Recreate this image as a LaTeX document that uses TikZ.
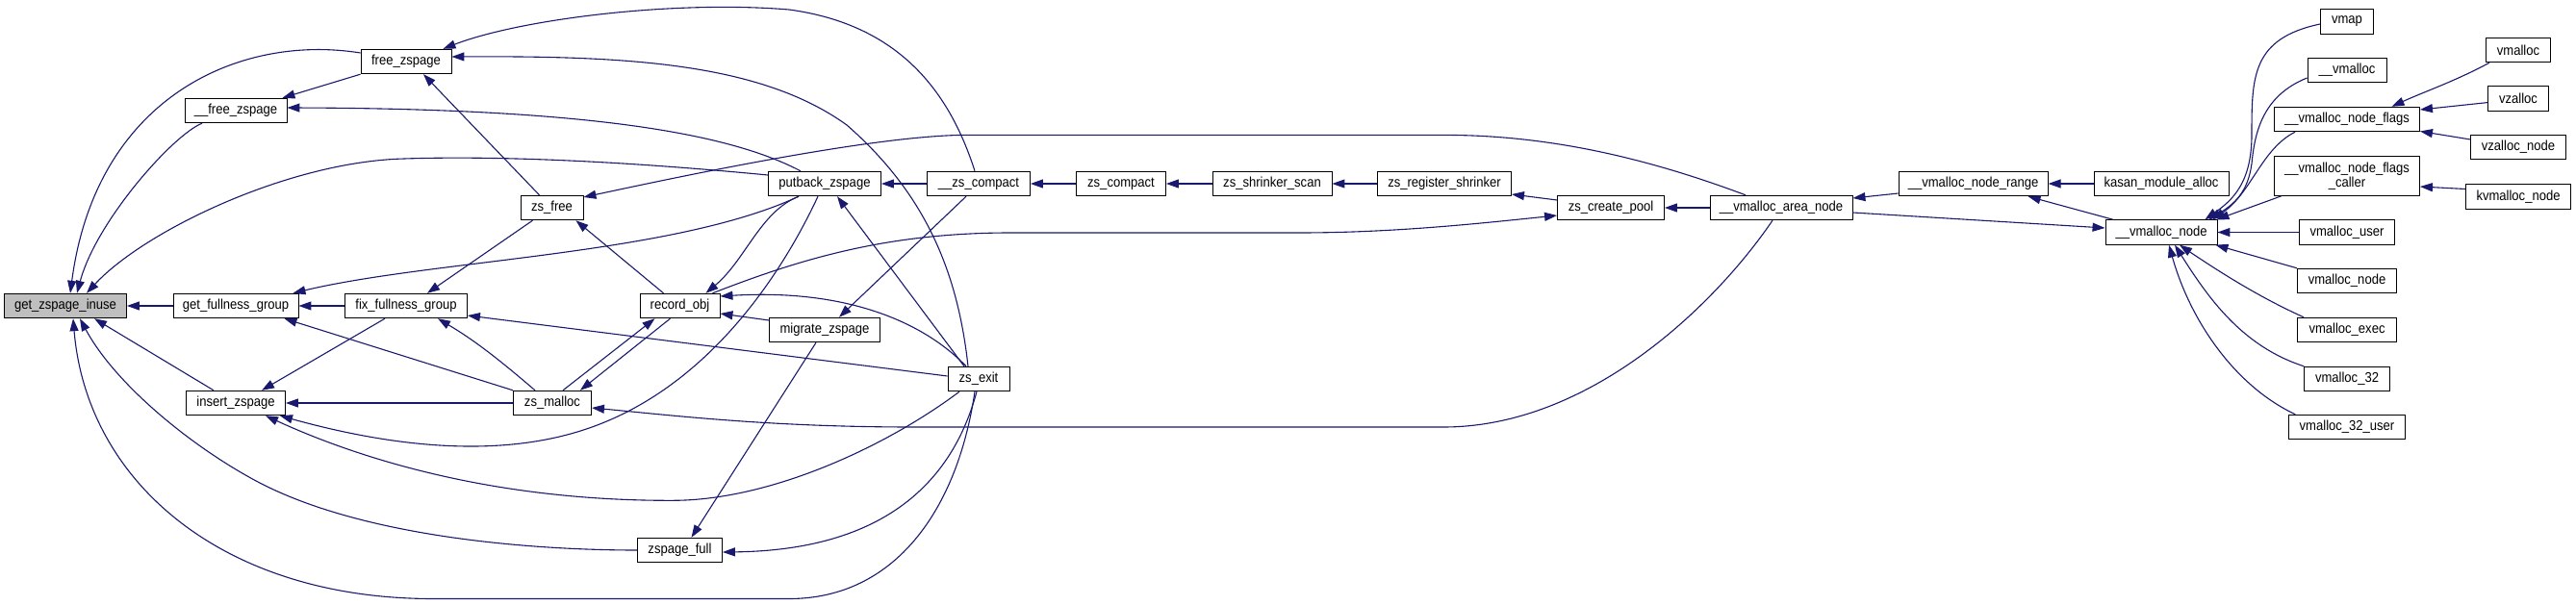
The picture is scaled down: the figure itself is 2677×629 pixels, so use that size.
\documentclass[tikz,border=0pt]{standalone}
\usepackage{fontspec}
\setmainfont{Liberation Sans}[FakeStretch=0.9]
\usetikzlibrary{arrows.meta}
\definecolor{edgeblue}{HTML}{191970}
\definecolor{boxgray}{HTML}{BFBFBF}
\begin{document}
\begin{tikzpicture}[x=1pt,y=-1pt,
  box/.style={draw=black,line width=0.9pt,fill=white,rectangle,minimum height=25.5pt,inner sep=0pt,align=center,font=\fontsize{14.5}{13.5}\selectfont},
  edge/.style={draw=edgeblue,line width=1.1pt,-{Triangle[length=13pt,width=9pt]}}]
\fill[white] (0,0) rectangle (2677,629);
\useasboundingbox (0,0) rectangle (2677,629);
% nodes
\node[box,fill=boxgray,minimum width=127pt] (gzi) at (68,318) {get\_zspage\_inuse};
\node[box,minimum width=94pt] (fzp) at (422,64) {free\_zspage};
\node[box,minimum width=106pt] (ufzp) at (245,115) {\_\_free\_zspage};
\node[box,minimum width=65pt] (zsfree) at (573.5,216) {zs\_free};
\node[box,minimum width=130pt] (gfg) at (245,318) {get\_fullness\_group};
\node[box,minimum width=127pt] (ffg) at (422,318) {fix\_fullness\_group};
\node[box,minimum width=103pt] (ins) at (245,419) {insert\_zspage};
\node[box,minimum width=81pt] (zsm) at (574,419) {zs\_malloc};
\node[box,minimum width=83pt] (rec) at (706.5,318) {record\_obj};
\node[box,minimum width=88pt] (zpf) at (706.5,572) {zspage\_full};
\node[box,minimum width=117pt] (put) at (857,191) {putback\_zspage};
\node[box,minimum width=115pt] (mig) at (857,343) {migrate\_zspage};
\node[box,minimum width=107pt] (zcp) at (1017,191) {\_\_zs\_compact};
\node[box,minimum width=64pt] (zex) at (1017,394) {zs\_exit};
\node[box,minimum width=93pt] (zsc) at (1165,191) {zs\_compact};
\node[box,minimum width=124pt] (zss) at (1322,191) {zs\_shrinker\_scan};
\node[box,minimum width=139pt] (zrs) at (1501,191) {zs\_register\_shrinker};
\node[box,minimum width=111pt] (zcpool) at (1674,216) {zs\_create\_pool};
\node[box,minimum width=148pt] (van) at (1851,216) {\_\_vmalloc\_area\_node};
\node[box,minimum width=155pt] (vnr) at (2050.6,191) {\_\_vmalloc\_node\_range};
\node[box,minimum width=140pt] (kma) at (2246,191) {kasan\_module\_alloc};
\node[box,minimum width=116pt] (vn) at (2246,241.5) {\_\_vmalloc\_node};
\node[box,minimum width=55pt] (vmap) at (2439,22.5) {vmap};
\node[box,minimum width=82pt] (uvm) at (2439,73) {\_\_vmalloc};
\node[box,minimum width=151pt] (vnf) at (2439,124) {\_\_vmalloc\_node\_flags};
\node[box,minimum width=151pt,minimum height=40.5pt] (vnfc) at (2439,183) {\_\_vmalloc\_node\_flags\\\_caller};
\node[box,minimum width=99pt] (vmu) at (2439,241.5) {vmalloc\_user};
\node[box,minimum width=103pt] (vmn) at (2439,292) {vmalloc\_node};
\node[box,minimum width=103pt] (vme) at (2439,343) {vmalloc\_exec};
\node[box,minimum width=88.5pt] (v32) at (2439,394) {vmalloc\_32};
\node[box,minimum width=120.6pt] (v32u) at (2439,444) {vmalloc\_32\_user};
\node[box,minimum width=67pt] (vml) at (2617,52) {vmalloc};
\node[box,minimum width=63pt] (vz) at (2617,102.6) {vzalloc};
\node[box,minimum width=98.7pt] (vzn) at (2617,153) {vzalloc\_node};
\node[box,minimum width=109pt] (kvm) at (2617,204.5) {kvmalloc\_node};
% edges into get_zspage_inuse
\draw[edge] ([yshift=9pt]fzp.west) .. controls (250,35) and (100,100) .. ([xshift=5pt]gzi.north);
\draw[edge] ([xshift=-35pt]ufzp.south) .. controls (180,140) and (100,230) .. ([xshift=12pt]gzi.north);
\draw[edge] ([yshift=9pt]put.west) .. controls (600,163) and (480,163) .. (420,165) .. controls (300,168) and (150,240) .. ([xshift=22pt]gzi.north);
\draw[edge] (gfg.west) -- (gzi.east);
\draw[edge] ([xshift=-23pt]ins.north) -- ([xshift=30pt]gzi.south);
\draw[edge] (zpf.west) .. controls (560,572) and (380,560) .. (268,501) .. controls (200,465) and (120,400) .. ([xshift=15pt]gzi.south);
\draw[edge] ([xshift=-4pt]zex.south) .. controls (995,530) and (930,622.5) .. (820,622.5) -- (450,622.5) .. controls (230,622.5) and (90,500) .. ([xshift=8pt]gzi.south);
% free_zspage / __free_zspage
\draw[edge] (fzp.south west) -- ([xshift=-5pt]ufzp.north east);
\draw[edge] ([xshift=-4pt]zcp.north) .. controls (985,90) and (930,25) .. (820,10) .. controls (700,0) and (540,20) .. ([xshift=-9pt]fzp.north east);
\draw[edge] ([xshift=-11pt]zex.north) .. controls (995,280) and (960,200) .. (880,130) .. controls (790,65) and (650,58) .. ([yshift=5pt]fzp.east);
\draw[edge] ([xshift=-13pt]zsfree.north) -- ([xshift=18pt]fzp.south);
\draw[edge] ([xshift=-25pt]put.north) .. controls (760,140) and (620,113) .. ([yshift=3pt]ufzp.east);
% zs_free
\draw[edge] ([xshift=-17pt]rec.north) -- ([xshift=-8pt]zsfree.south east);
\draw[edge] ([xshift=-37pt]van.north) .. controls (1700,160) and (1600,140.4) .. (1500,140.4) -- (1000,140.4) .. controls (900,142) and (700,185) .. ([yshift=11pt]zsfree.east);
% get_fullness_group / fix_fullness_group
\draw[edge] (ffg.west) -- (gfg.east);
\draw[edge] (zsm.north west) -- ([xshift=-15pt]gfg.south east);
\draw[edge] ([xshift=-27pt]put.south) .. controls (700,265) and (450,270) .. ([xshift=-6pt]gfg.north east);
\draw[edge] ([xshift=-20pt]zsfree.south) -- ([xshift=22pt]ffg.north);
\draw[edge] ([xshift=-18pt]zsm.north) .. controls (520,375) and (495,355) .. ([xshift=33pt]ffg.south);
\draw[edge] ([yshift=3pt]zex.west) -- ([yshift=-10pt]ffg.east);
% insert_zspage
\draw[edge] ([xshift=-22pt]ffg.south) -- ([xshift=27pt]ins.north);
\draw[edge] (zsm.west) -- (ins.east);
\draw[edge] ([xshift=-7pt]put.south) .. controls (810,290) and (730,410) .. (600,449) .. controls (520,473) and (420,468) .. ([xshift=-6pt]ins.south east);
\draw[edge] ([xshift=-20pt]zex.south) .. controls (920,465) and (800,520) .. (700,520.3) .. controls (520,521) and (380,480) .. ([xshift=31pt]ins.south);
% zs_malloc / record_obj
\draw[edge] ([xshift=-10pt]rec.south) -- ([xshift=-12pt]zsm.north east);
\draw[edge] ([xshift=11pt]zsm.north) -- ([xshift=-26pt]rec.south);
\draw[edge] ([xshift=-9pt]van.south) .. controls (1780,320) and (1650,444) .. (1500,444) -- (950,444) .. controls (800,444) and (700,432) .. ([yshift=-5pt]zsm.east);
\draw[edge] ([xshift=-27pt]put.south) .. controls (790,220) and (775,270) .. ([xshift=27pt]rec.north);
\draw[edge] ([xshift=34pt]rec.north) .. controls (830,270) and (920,242) .. (1050,242) -- (1350,242) .. controls (1450,242) and (1540,232) .. ([yshift=-8pt]zcpool.west);
\draw[edge] ([xshift=-13pt]zex.north) .. controls (960,335) and (880,300) .. ([yshift=10pt]rec.east);
\draw[edge] ([yshift=10pt]mig.west) -- ([yshift=-8pt]rec.east);
% putback / migrate / zspage_full
\draw[edge] (zcp.west) -- (put.east);
\draw[edge] ([xshift=-15pt]zex.north) -- ([xshift=13pt]put.south);
\draw[edge] ([xshift=-13pt]zcp.south) -- ([xshift=15pt]mig.north);
\draw[edge] ([xshift=-9pt]mig.south) -- ([xshift=12pt]zpf.north);
\draw[edge] ([xshift=-2pt]zex.south) .. controls (990,500) and (920,572) .. ([yshift=-2pt]zpf.east);
% chain to the right
\draw[edge] (zsc.west) -- (zcp.east);
\draw[edge] (zss.west) -- (zsc.east);
\draw[edge] (zrs.west) -- (zss.east);
\draw[edge] ([yshift=8pt]zcpool.west) -- ([yshift=-11pt]zrs.east);
\draw[edge] (van.west) -- (zcpool.east);
\draw[edge] ([yshift=-10pt]vnr.west) -- ([yshift=10pt]van.east);
\draw[edge] ([yshift=-5pt]van.east) -- ([yshift=4.5pt]vn.west);
\draw[edge] (kma.west) -- (vnr.east);
\draw[edge] ([xshift=-50pt]vn.north) -- ([xshift=57pt]vnr.south);
% into __vmalloc_node
\draw[edge] ([yshift=-2.5pt]vmap.west) .. controls (2340,40) and (2340,80) .. (2340,140) .. controls (2340,190) and (2320,208) .. ([xshift=-13pt]vn.north east);
\draw[edge] ([yshift=-8pt]uvm.west) .. controls (2350,100) and (2343,140) .. (2340,170) .. controls (2336,200) and (2322,212) .. ([xshift=-9pt]vn.north east);
\draw[edge] ([xshift=22pt]vnf.south west) .. controls (2350,155) and (2340,200) .. ([xshift=-5pt]vn.north east);
\draw[edge] ([xshift=8pt]vnfc.south west) -- ([xshift=-1pt]vn.north east);
\draw[edge] (vmu.west) -- (vn.east);
\draw[edge] (vmn.north west) -- ([xshift=-2pt]vn.south east);
\draw[edge] ([xshift=7pt]vme.north west) .. controls (2350,310) and (2310,285) .. ([xshift=19pt]vn.south);
\draw[edge] (v32.north west) .. controls (2330,360) and (2295,310) .. ([xshift=14pt]vn.south);
\draw[edge] ([xshift=7pt]v32u.north west) .. controls (2320,400) and (2275,330) .. ([xshift=8pt]vn.south);
% into __vmalloc_node_flags(_caller)
\draw[edge] ([xshift=4pt]vml.south west) .. controls (2550,85) and (2520,95) .. ([xshift=46.5pt]vnf.north);
\draw[edge] ([yshift=-4pt]vz.west) -- ([yshift=10pt]vnf.east);
\draw[edge] ([yshift=8pt]vzn.west) -- ([yshift=-12.5pt]vnf.east);
\draw[edge] ([yshift=8pt]kvm.west) -- ([yshift=-11pt]vnfc.east);
\end{tikzpicture}
\end{document}
